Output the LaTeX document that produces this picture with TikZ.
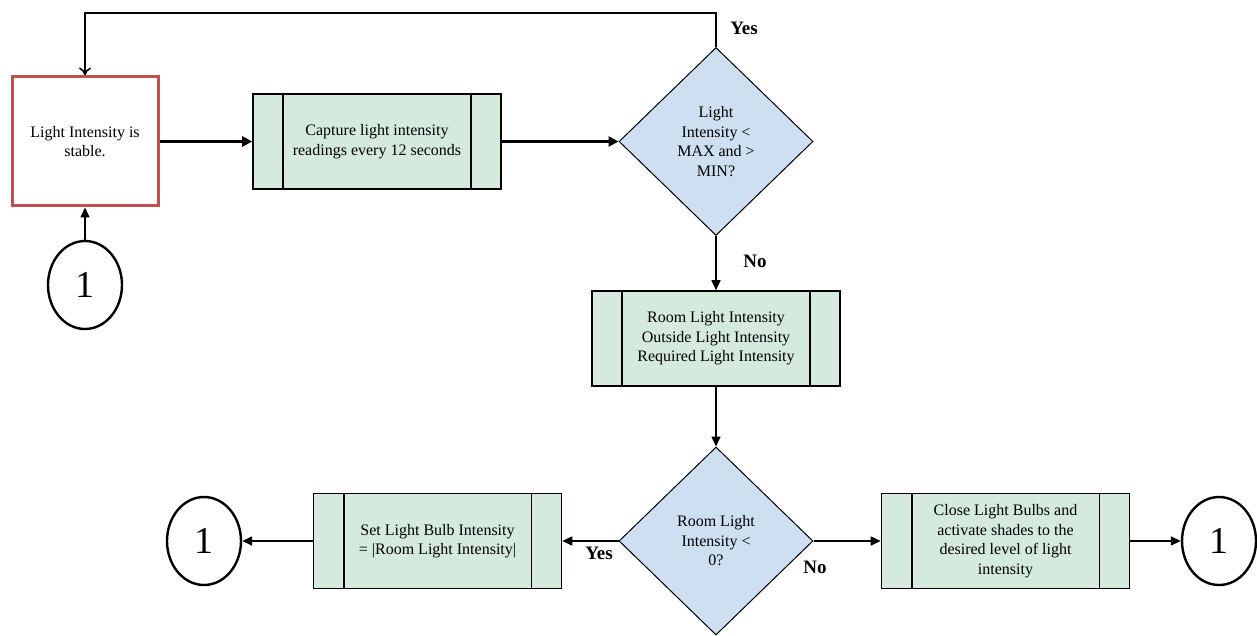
\documentclass[tikz,border=0pt]{standalone}
\usepackage{fontspec}
\setmainfont{Liberation Serif}
\usetikzlibrary{arrows.meta,shapes.geometric,calc}
\definecolor{boxgreen}{RGB}{213,234,221}
\definecolor{diablue}{RGB}{205,223,240}
\definecolor{redline}{RGB}{192,80,77}
\tikzset{
  proc/.style={draw=black,line width=1.6pt,fill=boxgreen,minimum width=248pt,minimum height=95pt,inner sep=0pt,align=center,font=\fontsize{16}{19.5}\selectfont},
  dec/.style={draw=black,line width=1pt,fill=diablue,diamond,minimum width=194pt,minimum height=188pt,inner sep=0pt,align=center,font=\fontsize{16}{19.5}\selectfont},
  conn/.style={draw=black,line width=2.4pt,ellipse,minimum width=74pt,minimum height=88pt,inner sep=0pt,font=\fontsize{38}{38}\selectfont},
  arr/.style={line width=1.6pt,-{Triangle[length=10pt,width=9pt]}},
  tarr/.style={line width=3.2pt,-{Triangle[length=10pt,width=10pt]}},
  lbl/.style={font=\fontsize{19}{19}\selectfont\bfseries},
}
\begin{document}
\begin{tikzpicture}[x=1pt,y=-1pt]
\useasboundingbox (0,0) rectangle (1257,636);
% nodes
\node[draw=redline,line width=3pt,fill=white,minimum width=146pt,minimum height=129pt,inner sep=0pt,align=center,font=\fontsize{16}{19.5}\selectfont] (stable) at (85,141.5) {Light Intensity is\\stable.};
\node[conn] (c1) at (85,285) {1};
\node[proc] (capture) at (377,141.5) {Capture light intensity\\readings every 12 seconds};
\node[dec] (d1) at (716,141.5) {Light\\Intensity <\\MAX and >\\MIN?};
\node[proc] (room) at (716,338.5) {Room Light Intensity\\Outside Light Intensity\\Required Light Intensity};
\node[dec] (d2) at (716,541) {Room Light\\Intensity <\\0?};
\node[proc] (set) at (437.5,541) {Set Light Bulb Intensity\\= |Room Light Intensity|};
\node[proc] (close) at (1005.5,541) {Close Light Bulbs and\\activate shades to the\\desired level of light\\intensity};
\node[conn] (c2) at (204,541) {1};
\node[conn] (c3) at (1219,541) {1};
% inner lines of process boxes
\foreach \n in {capture,room,set,close}{
  \draw[line width=1.6pt] ($(\n.north west)+(31,0)$) -- ($(\n.south west)+(31,0)$);
  \draw[line width=1.6pt] ($(\n.north east)+(-31,0)$) -- ($(\n.south east)+(-31,0)$);
}
% connectors
\coordinate (t1) at (716,13);
\coordinate (t2) at (85,13);
\draw[line width=1.6pt,-{To[length=8pt,width=12pt]}] (d1.north) -- (t1) -- (t2) -- (stable.north);
\draw[arr] (c1.north) -- (stable.south);
\draw[tarr] (stable.east) -- (capture.west);
\draw[tarr] (capture.east) -- (d1.west);
\draw[arr] (d1.south) -- (room.north);
\draw[arr] (room.south) -- (d2.north);
\draw[arr] (d2.west) -- (set.east);
\draw[arr] (set.west) -- (c2.east);
\draw[arr] (d2.east) -- (close.west);
\draw[arr] (close.east) -- (c3.west);
% labels
\node[lbl] (yes1) at (744,28) {Yes};
\node[lbl] (no1) at (755,261) {No};
\node[lbl] (yes2) at (599,553) {Yes};
\node[lbl] (no2) at (815,567) {No};
\end{tikzpicture}
\end{document}
